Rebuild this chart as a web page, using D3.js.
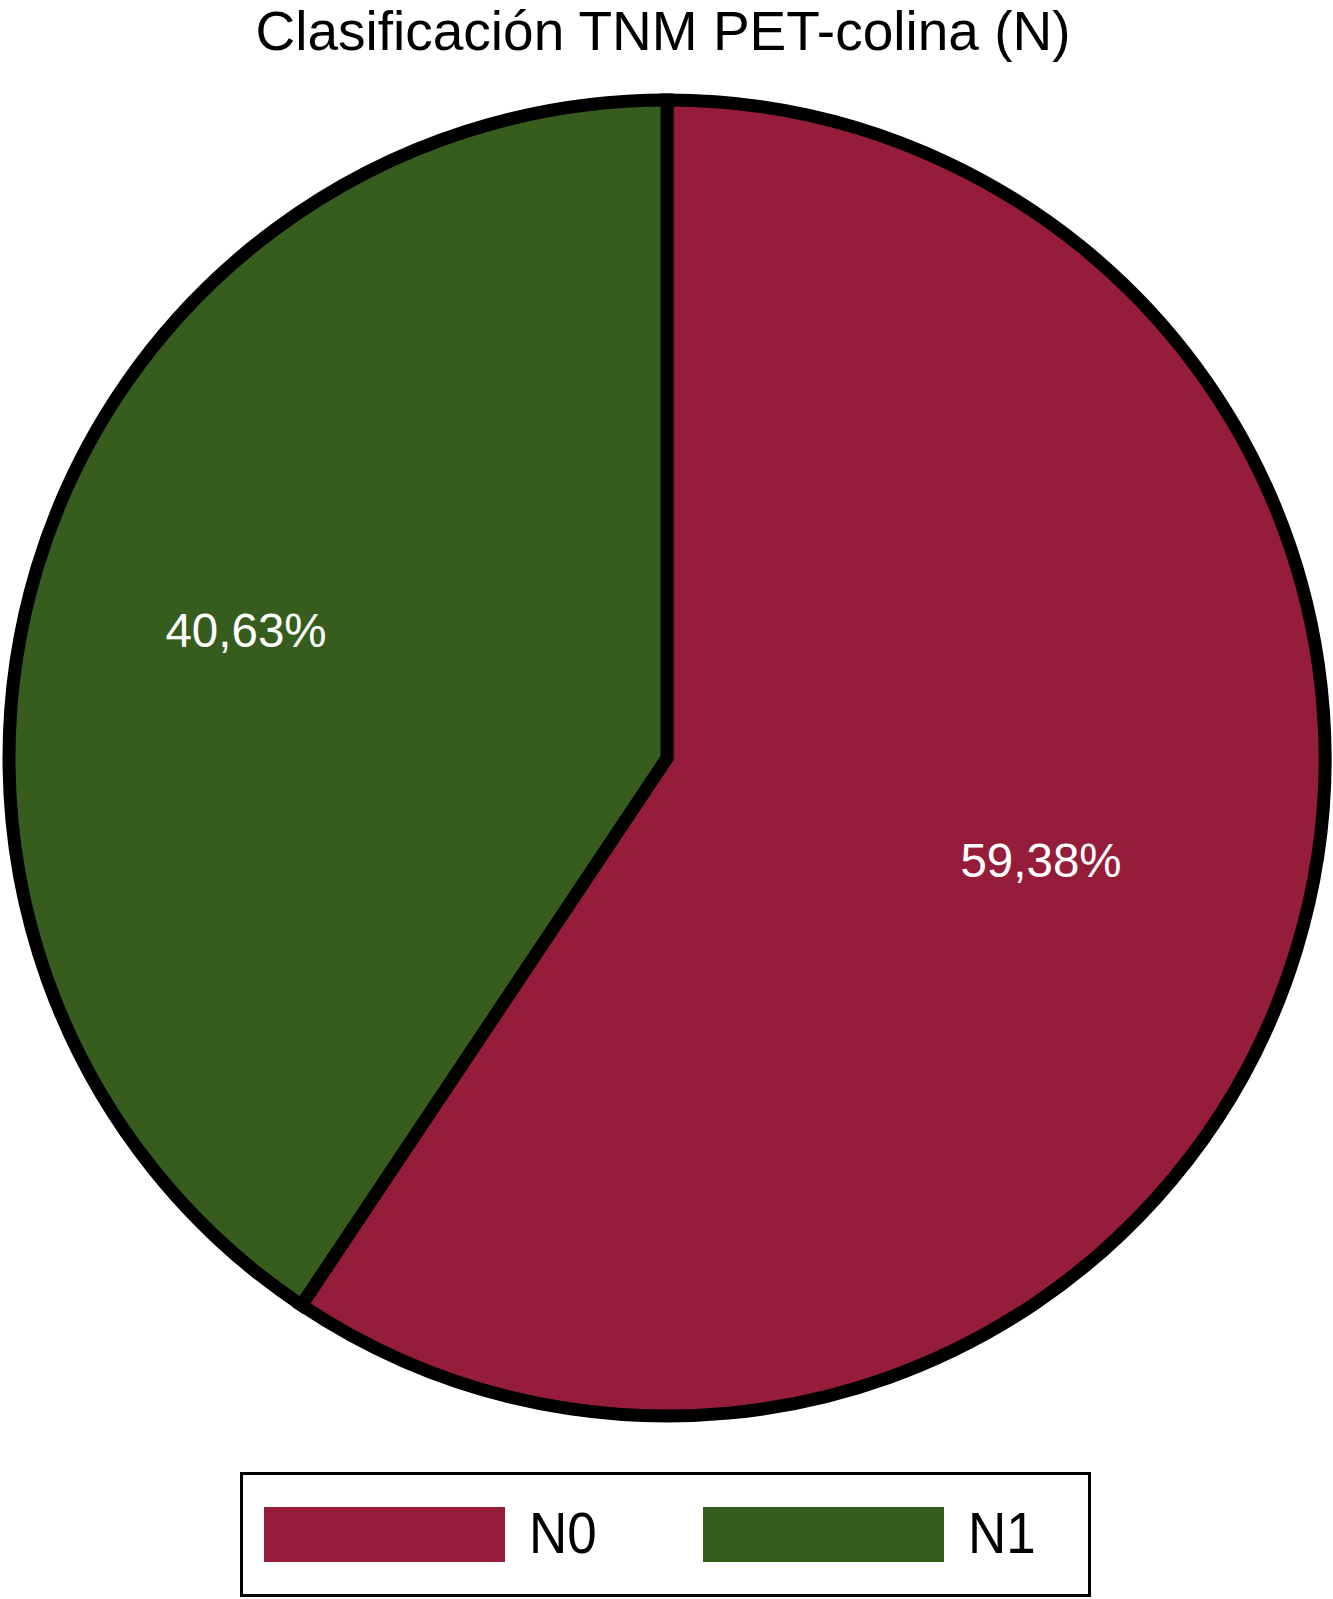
<!DOCTYPE html>
<html>
<head>
<meta charset="utf-8">
<script src="https://cdn.jsdelivr.net/npm/d3@7"></script>
<style>
  body { margin: 0; background: #fff; }
  svg { display: block; }
</style>
</head>
<body>
<svg id="chart" width="1333" height="1599"></svg>
<script>
const categories = ["N0", "N1"];
const values = [59.38, 40.63];
const valueLabels = ["59,38%", "40,63%"];
const colors = ["#961d3a", "#365d1e"];

const svg = d3.select('#chart');
const cx = 667, cy = 758, radius = 658;

svg.append('text')
    .attr('x', 663)
    .attr('y', 50)
    .attr('text-anchor', 'middle')
    .style('font-family', 'Liberation Sans, Arial, sans-serif')
    .style('font-size', '55px')
    .text('Clasificación TNM PET-colina (N)');

const pie = d3.pie().sort(null).value(d => d.value);
const arc = d3.arc().innerRadius(0).outerRadius(radius);

const data = categories.map((c, i) => ({ cat: c, value: values[i], label: valueLabels[i], color: colors[i] }));
const arcs = pie(data);

const g = svg.append('g').attr('transform', `translate(${cx},${cy})`);

g.selectAll('path')
    .data(arcs)
    .enter()
    .append('path')
    .attr('d', arc)
    .attr('fill', d => d.data.color)
    .attr('stroke', '#000')
    .attr('stroke-width', 13)
    .attr('stroke-linejoin', 'miter');

// percentage labels, placed where the original puts them
const labelPos = { N0: [1041, 877], N1: [246, 647] };
g.selectAll('text.pct')
    .data(arcs)
    .enter()
    .append('text')
    .attr('class', 'pct')
    .attr('x', d => labelPos[d.data.cat][0] - cx)
    .attr('y', d => labelPos[d.data.cat][1] - cy)
    .attr('text-anchor', 'middle')
    .attr('fill', '#fff')
    .style('font-family', 'Liberation Sans, Arial, sans-serif')
    .style('font-size', '47.5px')
    .text(d => d.data.label);

// legend
const legend = svg.append('g');
legend.append('rect')
    .attr('x', 241.5)
    .attr('y', 1473.5)
    .attr('width', 848)
    .attr('height', 122)
    .attr('fill', 'none')
    .attr('stroke', '#000')
    .attr('stroke-width', 3);

const legendX = d3.scalePoint().domain(categories).range([264, 703]);

const items = legend.selectAll('g.item')
    .data(data)
    .enter()
    .append('g')
    .attr('class', 'item')
    .attr('transform', d => `translate(${legendX(d.cat)},1507)`);

items.append('rect')
    .attr('width', 241)
    .attr('height', 55)
    .attr('fill', d => d.color);

items.append('text')
    .attr('transform', 'translate(265,46) scale(0.93,1)')
    .style('font-family', 'Liberation Sans, Arial, sans-serif')
    .style('font-size', '57px')
    .text(d => d.cat);
</script>
</body>
</html>
